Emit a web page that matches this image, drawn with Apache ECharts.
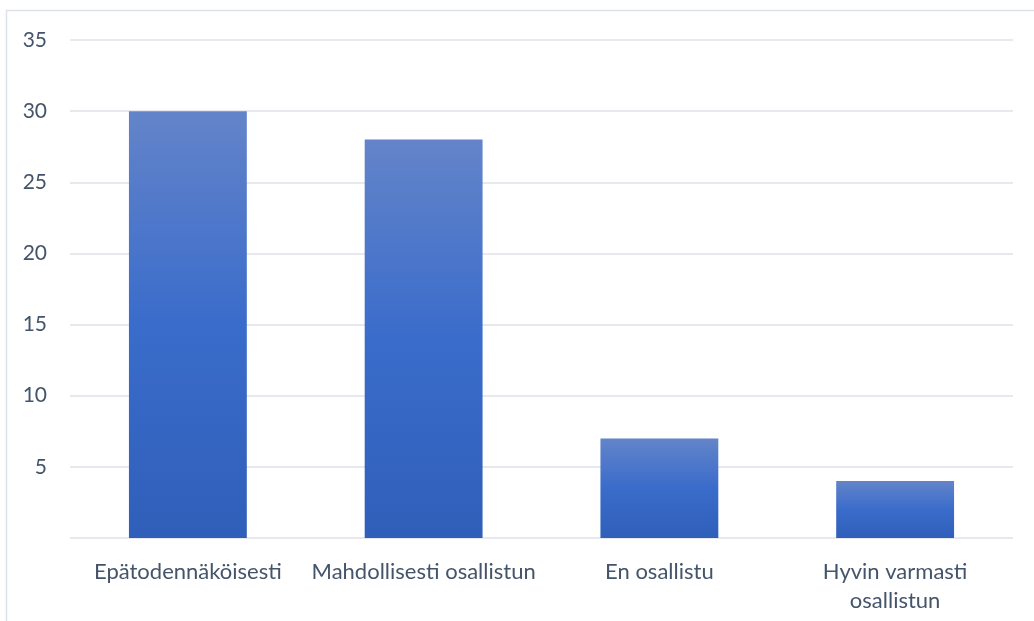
<!DOCTYPE html>
<html>
<head>
<meta charset="utf-8">
<script src="https://cdn.jsdelivr.net/npm/echarts@6/dist/echarts.min.js"></script>
<style>
  html, body { margin: 0; padding: 0; background: #fff; }
  #chart { width: 1034px; height: 621px; }
</style>
</head>
<body>
<div id="chart"></div>
<script>
// Survey answers and their counts
const categories = ['Epätodennäköisesti', 'Mahdollisesti osallistun', 'En osallistu', 'Hyvin varmasti\nosallistun'];
const counts = [30, 28, 7, 4];
const yTicks = { min: 0, max: 35, interval: 5 };

const textColor = '#44546a';
const fontFamily = 'Lato, "Open Sans", sans-serif';

const chart = echarts.init(document.getElementById('chart'), null, { renderer: 'canvas' });
chart.setOption({
  animation: false,
  graphic: [{
    type: 'rect',
    shape: { x: 6.5, y: 10.5, width: 1040, height: 620 },
    style: { fill: 'none', stroke: '#dde1e8', lineWidth: 1.5 },
    silent: true
  }],
  grid: { left: 70, right: 21, top: 40, bottom: 83 },
  xAxis: {
    type: 'category',
    data: categories,
    axisLine: { show: false },
    axisTick: { show: false },
    axisLabel: {
      color: textColor, fontSize: 22, fontFamily: fontFamily,
      margin: 19, lineHeight: 29, interval: 0
    }
  },
  yAxis: {
    type: 'value',
    min: yTicks.min, max: yTicks.max, interval: yTicks.interval,
    axisLine: { show: false },
    axisTick: { show: false },
    splitLine: { lineStyle: { color: '#dfe2e8', width: 1.5 } },
    axisLabel: {
      color: textColor, fontSize: 21, fontFamily: fontFamily, margin: 23,
      formatter: v => (v === 0 ? '' : String(v))
    }
  },
  series: [{
    type: 'bar',
    data: counts,
    barWidth: '50%',
    itemStyle: {
      color: new echarts.graphic.LinearGradient(0, 0, 0, 1, [
        { offset: 0, color: '#6384c9' },
        { offset: 0.5, color: '#3a6ccb' },
        { offset: 1, color: '#2f5fb9' }
      ])
    }
  }]
});
</script>
</body>
</html>
